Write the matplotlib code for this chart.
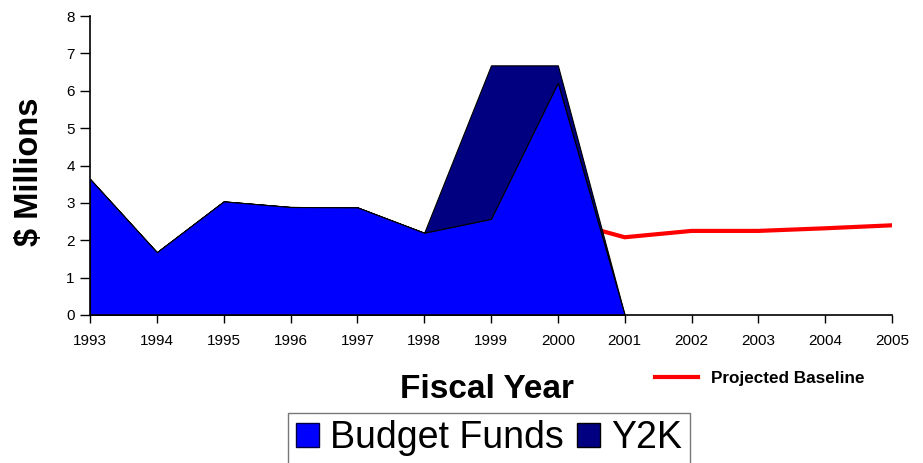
import numpy as np
import matplotlib
matplotlib.use('Agg')
import matplotlib.pyplot as plt
from matplotlib.patches import Patch
from matplotlib.lines import Line2D

plt.rcParams['font.family'] = ['Liberation Sans', 'DejaVu Sans']

# funding by fiscal year ($ millions)
years = [1993, 1994, 1995, 1996, 1997, 1998, 1999, 2000, 2001]
budget_funds = [3.64, 1.68, 3.04, 2.89, 2.88, 2.20, 2.57, 6.21, 0.0]
y2k = [0.0, 0.0, 0.0, 0.0, 0.0, 0.0, 4.11, 0.47, 0.0]

# projected baseline
base_years = [2000, 2001, 2002, 2003, 2004, 2005]
baseline = [2.57, 2.08, 2.25, 2.25, 2.32, 2.40]

tick_years = list(range(1993, 2006))

fig = plt.figure(figsize=(9.23, 4.63), dpi=100)
ax = fig.add_axes([90 / 923, 1 - 315 / 463, 802 / 923, 299 / 463])

yr = np.array(years)
bf = np.array(budget_funds)
tot = bf + np.array(y2k)

ax.plot(base_years, baseline, color='#ff0000', lw=3, zorder=1, solid_joinstyle='miter')
ax.fill_between(yr, bf, tot, facecolor='#000080', edgecolor='black', lw=0.8, zorder=2)
ax.fill_between(yr, 0, bf, facecolor='#0000ff', edgecolor='black', lw=0.8, zorder=3)

ax.set_xlim(1993, 2005)
ax.set_ylim(0, 8)
ax.set_xticks(tick_years)
ax.set_yticks(range(0, 9))
ax.tick_params(axis='both', direction='out', width=1, labelsize=11, color='black')
ax.tick_params(axis='x', length=6, pad=8)
ax.tick_params(axis='y', length=7, pad=4)
for side in ['top', 'right']:
    ax.spines[side].set_visible(False)
for side in ['left', 'bottom']:
    ax.spines[side].set_linewidth(1.2)
    ax.spines[side].set_zorder(5)

fig.text(30 / 923, 1 - 172 / 463, '$ Millions', rotation=90, fontsize=23.5,
         fontweight='bold', ha='center', va='center')
fig.text(487 / 923, 1 - 389 / 463, 'Fiscal Year', fontsize=24,
         fontweight='bold', ha='center', va='center')

# baseline legend
base_handle = Line2D([0], [0], color='#ff0000', lw=3)
leg1 = fig.legend([base_handle], ['Projected Baseline'], loc='center left',
                  bbox_to_anchor=(655 / 923, 1 - 378 / 463), frameon=False,
                  prop={'size': 12.3, 'weight': 'bold'}, handlelength=2.5,
                  handletextpad=0.75, borderaxespad=0, borderpad=0)

# funding legend
handles = [Patch(facecolor='#0000ff', edgecolor='#000040', lw=1),
           Patch(facecolor='#000080', edgecolor='black', lw=1)]
leg2 = fig.legend(handles, ['Budget Funds', 'Y2K'], loc='upper left',
                  bbox_to_anchor=(288 / 923, 1 - 413 / 463), ncol=2,
                  fontsize=27, frameon=True, fancybox=False,
                  handlelength=0.62, handleheight=0.62, handletextpad=0.3,
                  columnspacing=0.35, borderpad=0.2, borderaxespad=0)
leg2.get_frame().set_edgecolor('#555555')
leg2.get_frame().set_linewidth(1)

fig.savefig('out.png', dpi=100)
